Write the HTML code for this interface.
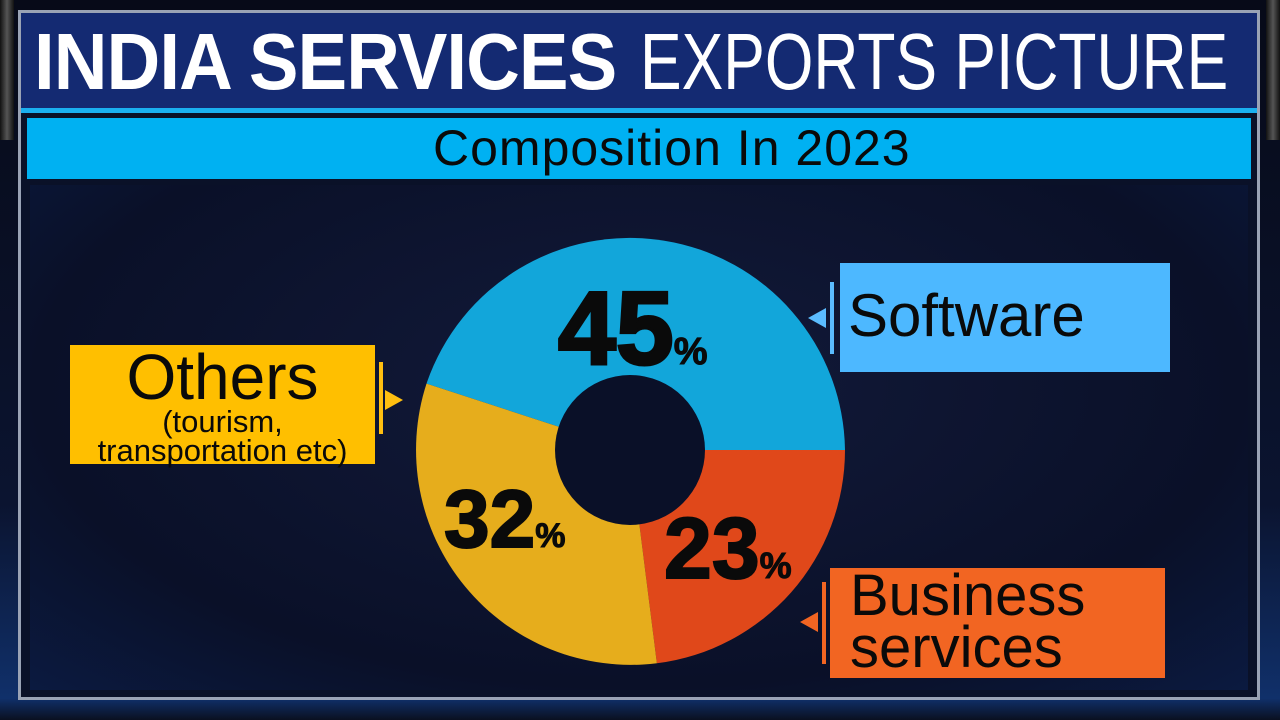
<!DOCTYPE html>
<html><head><meta charset="utf-8"><style>
html,body{margin:0;padding:0;width:1280px;height:720px;overflow:hidden;background:#05070f;font-family:"Liberation Sans",sans-serif}
.abs{position:absolute}
</style></head><body>
<div class="abs" style="left:0;top:0;width:1280px;height:720px;background:linear-gradient(#070a18,#0b1430 70%,#10306a 97%,#0a1020)"></div>
<div class="abs" style="left:0;top:0;width:14px;height:140px;background:linear-gradient(90deg,#111,#555,#111)"></div>
<div class="abs" style="left:1266px;top:0;width:14px;height:140px;background:linear-gradient(90deg,#111,#555,#111)"></div>
<div class="abs" style="left:18px;top:10px;width:1242px;height:690px;border:3px solid #9aa3b5;box-sizing:border-box;background:#0a1128"></div>
<div class="abs" style="left:21px;top:13px;width:1236px;height:97px;background:#142a72"></div>
<div class="abs" style="left:21px;top:108px;width:1236px;height:5px;background:#1ab0f0"></div>
<div class="abs" style="left:34px;top:14px;height:96px;line-height:96px;color:#fff;font-size:80px;font-weight:bold;white-space:nowrap;letter-spacing:-1px;transform:scaleX(0.93);transform-origin:0 50%">INDIA SERVICES</div>
<div class="abs" style="left:640px;top:14px;height:96px;line-height:96px;color:#fff;font-size:80px;white-space:nowrap;transform:scaleX(0.78);transform-origin:0 50%">EXPORTS PICTURE</div>
<div class="abs" style="left:25px;top:116px;width:1228px;height:65px;background:#00b1f2;border:2px solid #0a1128;box-sizing:border-box"></div>
<div class="abs" style="left:433px;top:116px;height:65px;line-height:65px;white-space:nowrap;font-size:50px;color:#0a0a0a;letter-spacing:1px">Composition In 2023</div>
<div class="abs" style="left:30px;top:185px;width:1218px;height:505px;background:radial-gradient(ellipse at 50% 40%,#121a3a,#0a1028 70%,#0b1a40)"></div>
<svg class="abs" style="left:0;top:0" width="1280" height="720">
<path d="M630 450 L426.5 383.6 A215 215 0 0 1 845 450 Z" fill="#12a6da"/>
<path d="M630 450 L845 450 A215 215 0 0 1 656.9 663.3 Z" fill="#e0481a"/>
<path d="M630 450 L656.9 663.3 A215 215 0 0 1 426.5 383.6 Z" fill="#e6ad1c"/>
<circle cx="630" cy="450" r="75" fill="#0a1028"/>
<text x="558" y="364" font-family="Liberation Sans" font-weight="bold" font-size="104" fill="#0a0a0a" stroke="#0a0a0a" stroke-width="3">45<tspan font-size="38" stroke-width="1">%</tspan></text>
<text x="444" y="547" font-family="Liberation Sans" font-weight="bold" font-size="82" fill="#0a0a0a" stroke="#0a0a0a" stroke-width="2">32<tspan font-size="34" stroke-width="1">%</tspan></text>
<text x="664" y="578" font-family="Liberation Sans" font-weight="bold" font-size="86" fill="#0a0a0a" stroke="#0a0a0a" stroke-width="2">23<tspan font-size="36" stroke-width="1">%</tspan></text>
<polygon points="808,318 826,308 826,328" fill="#5bbcff"/>
<rect x="830" y="282" width="4" height="72" fill="#5bbcff"/>
<polygon points="403,400 385,390 385,410" fill="#ffbf10"/>
<rect x="379" y="362" width="4" height="72" fill="#ffbf10"/>
<polygon points="800,622 818,612 818,632" fill="#f26522"/>
<rect x="822" y="582" width="4" height="82" fill="#f26522"/>
</svg>
<div class="abs" style="left:840px;top:263px;width:330px;height:109px;background:#4db8ff"></div>
<div class="abs" style="left:848px;top:263px;height:109px;line-height:106px;font-size:60px;color:#0a0a0a">Software</div>
<div class="abs" style="left:70px;top:345px;width:305px;height:119px;background:#ffbf00;text-align:center;color:#0a0a0a">
<div style="font-size:64px;line-height:64px">Others</div>
<div style="font-size:31px;line-height:29px;margin-top:-2px">(tourism,<br>transportation etc)</div></div>
<div class="abs" style="left:830px;top:568px;width:335px;height:110px;background:#f26522"></div>
<div class="abs" style="left:850px;top:570px;font-size:58px;line-height:52px;color:#0a0a0a">Business<br>services</div>
</body></html>
